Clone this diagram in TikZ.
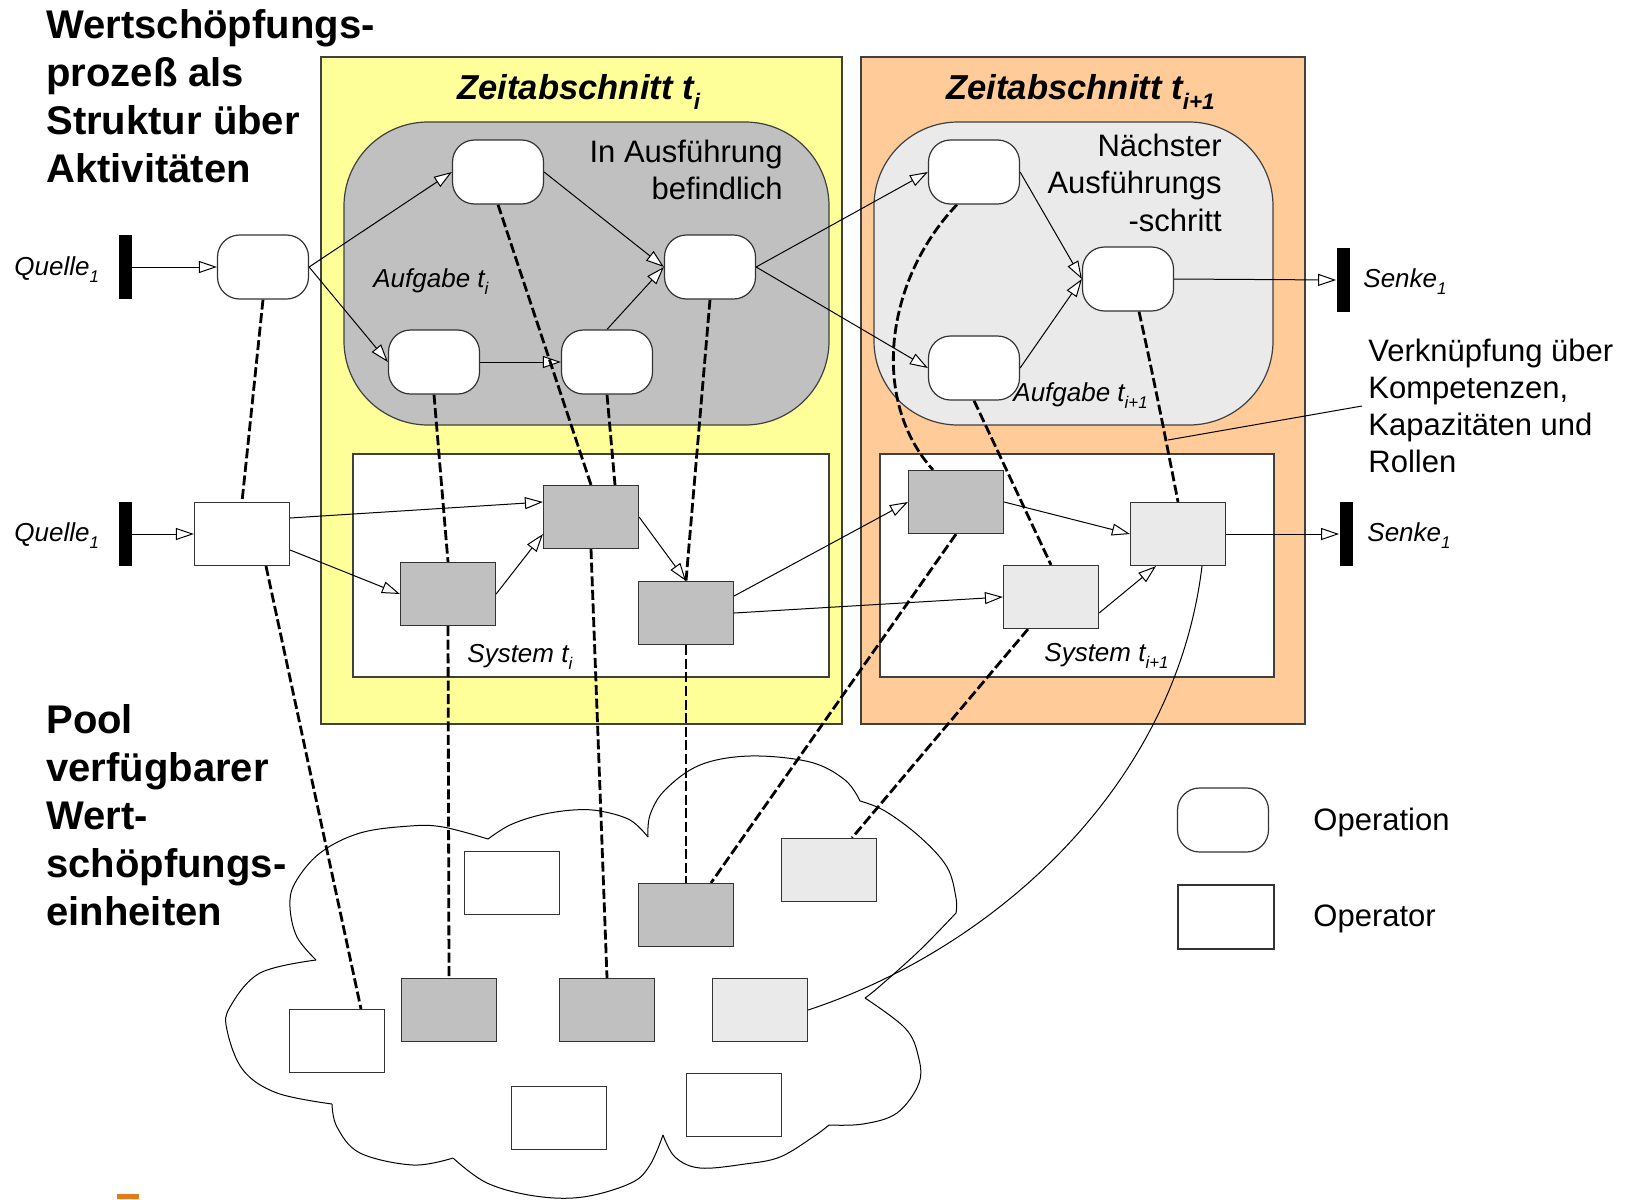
\documentclass[tikz,border=0pt]{standalone}
\usepackage{fontspec}
\setmainfont{Liberation Sans}
\usetikzlibrary{arrows.meta,calc}
\pgfdeclarelayer{bg}
\pgfdeclarelayer{mid}
\pgfsetlayers{bg,mid,main}

\definecolor{zeitgelb}{HTML}{FFFF99}
\definecolor{zeitorange}{HTML}{FFCC99}
\definecolor{grauA}{HTML}{C0C0C0}
\definecolor{grauB}{HTML}{EAEAEA}
\definecolor{logoorange}{HTML}{E8771E}

% lowered, reduced index (t_i, Quelle_1 ...)
\newcommand\lowsub[1]{\raisebox{-0.3em}{\scalebox{0.65}{#1}}}

\begin{document}
\begin{tikzpicture}[x=0.5pt,y=-0.5pt,
  opnode/.style={draw=black!80, line width=0.6pt, rounded corners=11pt, fill=white,
                 minimum width=45.5pt, minimum height=32pt, inner sep=0pt},
  unitbox/.style={draw=black!80, line width=0.6pt, fill=#1,
                  minimum width=47.5pt, minimum height=31.5pt, inner sep=0pt},
  unitbox/.default=white,
  barnode/.style={fill=black, minimum width=6.5pt, minimum height=32pt, inner sep=0pt},
  flowarrow/.style={line width=0.5pt, -{Triangle[length=9pt,width=6pt,fill=white]}},
  rolelink/.style={line width=1.4pt, dash pattern=on 5pt off 1.8pt},
  regionline/.style={draw=black!75, line width=0.6pt},
  headtxt/.style={font=\fontsize{20}{24}\selectfont\bfseries, anchor=base west, inner sep=0pt},
  zeittxt/.style={font=\fontsize{17.3}{20}\selectfont\bfseries\itshape, anchor=base west, inner sep=0pt},
  plaintxt/.style={font=\fontsize{15.5}{18.5}\selectfont, inner sep=0pt},
  labeltxt/.style={font=\fontsize{13}{15}\selectfont\itshape, anchor=base west, inner sep=0pt},
  cloudline/.style={line width=0.5pt}
]
\useasboundingbox (0,0) rectangle (1631,1199);

% ---------- background regions ----------
\begin{pgfonlayer}{bg}
  \fill[white] (0,0) rectangle (1631,1199);
  \filldraw[fill=zeitgelb, regionline] (321,57) rectangle (842,724);
  \filldraw[fill=zeitorange, regionline] (861,57) rectangle (1305,724);
  \filldraw[fill=grauA, regionline, rounded corners=42pt] (344,122) rectangle (829,425);
  \filldraw[fill=grauB, regionline, rounded corners=42pt] (874,122) rectangle (1273,425);
  \filldraw[fill=white, regionline] (353,454) rectangle (829,677);
  \filldraw[fill=white, regionline] (880,454) rectangle (1274,677);
  % pool cloud, one bump after the other
  \draw[cloudline] plot[smooth, tension=0.6] coordinates
    {(488,839) (443,827) (410,826) (360,833) (320,853) (295,883) (290,907) (297,937) (316,960)};
  \draw[cloudline] plot[smooth, tension=0.6] coordinates
    {(316,960) (260,973) (230,1007) (227,1030) (243,1070) (277,1093) (332,1104)};
  \draw[cloudline] plot[smooth, tension=0.6] coordinates
    {(332,1104) (337,1127) (360,1153) (413,1165) (453,1158)};
  \draw[cloudline] plot[smooth, tension=0.6] coordinates
    {(453,1158) (487,1183) (535,1196) (583,1197) (631,1183) (650,1165) (663,1135)};
  \draw[cloudline] plot[smooth, tension=0.6] coordinates
    {(663,1135) (675,1157) (700,1168) (745,1164) (780,1157) (813,1137) (829,1125)};
  \draw[cloudline] plot[smooth, tension=0.6] coordinates
    {(829,1125) (863,1124) (897,1113) (919,1083) (918,1055) (905,1028) (865,998)};
  \draw[cloudline] plot[smooth, tension=0.6] coordinates
    {(865,998) (880,986) (920,950) (956,913)};
  \draw[cloudline] plot[smooth, tension=0.6] coordinates
    {(956,913) (956,898) (947,867) (920,837) (885,811) (860,801)};
  \draw[cloudline] plot[smooth, tension=0.6] coordinates
    {(860,801) (845,780) (810,762) (750,756) (700,765) (665,790) (650,815) (648,837)};
  \draw[cloudline] plot[smooth, tension=0.6] coordinates
    {(648,837) (630,820) (600,811) (573,810) (540,815) (510,825) (488,839)};
  % logo fragment
  \fill[logoorange] (117,1194) rectangle (139,1199);
\end{pgfonlayer}

% ---------- operations (process level) ----------
\node[barnode] (QA) at (125,267) {};
\node[opnode] (A) at (263,267) {};
\node[opnode] (B) at (498,172) {};
\node[opnode] (C) at (434,362) {};
\node[opnode] (D) at (607,362) {};
\node[opnode] (E) at (710,267) {};
\node[opnode] (F) at (974,172) {};
\node[opnode] (G) at (974,368) {};
\node[opnode] (H) at (1128,279) {};
\node[barnode] (SA) at (1343,280) {};

% ---------- operators (system level) ----------
\node[barnode] (QB) at (125,534) {};
\node[unitbox] (R0) at (242,534) {};
\node[unitbox=grauA] (S1) at (448,594) {};
\node[unitbox=grauA] (S2) at (591,517) {};
\node[unitbox=grauA] (S3) at (686,613) {};
\node[unitbox=grauA] (T1) at (956,502) {};
\node[unitbox=grauB] (T2) at (1051,597) {};
\node[unitbox=grauB] (T3) at (1178,534) {};
\node[barnode] (SB) at (1346,534) {};

% ---------- pool of units ----------
\node[unitbox] (P1) at (337,1041) {};
\node[unitbox=grauA] (P2) at (449,1010) {};
\node[unitbox=grauA] (P3) at (607,1010) {};
\node[unitbox=grauB] (P4) at (760,1010) {};
\node[unitbox] (P5) at (512,883) {};
\node[unitbox=grauA] (P6) at (686,915) {};
\node[unitbox=grauB] (P7) at (829,870) {};
\node[unitbox] (P8) at (559,1118) {};
\node[unitbox] (P9) at (734,1105) {};

% ---------- legend ----------
\node[opnode] (LegOp) at (1223,820) {};
\node[unitbox, minimum width=48pt, minimum height=32pt] (LegOpr) at (1226,917) {};
\node[plaintxt, anchor=base west] (legA) at (1313,830) {Operation};
\node[plaintxt, anchor=base west] (legB) at (1313,926) {Operator};

% ---------- connectors ----------
\coordinate (annoStart) at (1362,406);
\coordinate (annoEnd) at (1168,440);
\begin{pgfonlayer}{mid}
  % process flow
  \draw[flowarrow] (QA.east) -- (A.west);
  \draw[flowarrow] (A.east) -- (B.west);
  \draw[flowarrow] (A.east) -- (C.west);
  \draw[flowarrow] (B.east) -- (E.west);
  \draw[flowarrow] (C.east) -- (D.west);
  \draw[flowarrow] (D.north) -- (E.west);
  \draw[flowarrow] (E.east) -- (F.west);
  \draw[flowarrow] (E.east) -- (G.west);
  \draw[flowarrow] (F.east) -- (H.west);
  \draw[flowarrow] (G.east) -- (H.west);
  \draw[flowarrow] (H.east) -- (SA.west);
  % system flow
  \draw[flowarrow] (QB.east) -- (R0.west);
  \draw[flowarrow] ($(R0.east)+(0,-16)$) -- ($(S2.west)+(0,-15)$);
  \draw[flowarrow] ($(R0.east)+(0,16)$) -- (S1.west);
  \draw[flowarrow] (S1.east) -- ($(S2.west)+(0,17)$);
  \draw[flowarrow] (S2.east) -- (S3.north);
  \draw[flowarrow] ($(S3.east)+(0,-17)$) -- (T1.west);
  \draw[flowarrow] (S3.east) -- (T2.west);
  \draw[flowarrow] (T1.east) -- (T3.west);
  \draw[flowarrow] ($(T2.east)+(0,16)$) -- ($(T3.south)+(-22,0)$);
  \draw[flowarrow] (T3.east) -- (SB.west);
  % assignments operation -> operator -> pool
  \draw[rolelink] (A.south) -- (R0.north);
  \draw[rolelink] ($(R0.south)+(24,0)$) -- ($(P1.north)+(24,0)$);
  \draw[rolelink] (B.south) -- (S2.north);
  \draw[rolelink] (C.south) -- (S1.north);
  \draw[rolelink] (D.south) -- ($(S2.north)+(24,0)$);
  \draw[rolelink] (E.south) -- (S3.north);
  \draw[rolelink] (S1.south) -- (P2.north);
  \draw[rolelink] (S2.south) -- (P3.north);
  \draw[rolelink] (S3.south) -- (P6.north);
  \draw[rolelink] ($(F.south)+(-17,0)$) .. controls (885,280) and (870,400) .. ($(T1.north)+(-23,0)$);
  \draw[rolelink] (T1.south) -- ($(P6.north)+(25,0)$);
  \draw[rolelink] (G.south) -- (T2.north);
  \draw[rolelink] ($(H.south)+(11,0)$) .. controls (1152,370) and (1166,440) .. (T3.north);
  \draw[rolelink] ($(T2.south)+(-23,0)$) -- ($(P7.north)+(23,0)$);
  \draw[line width=0.5pt] ($(T3.south)+(24,0)$) .. controls (1175,790) and (990,950) .. (P4.east);
  % annotation pointer
  \draw[line width=0.5pt] (annoStart) -- (annoEnd);
\end{pgfonlayer}

% ---------- texts ----------
\foreach \txt [count=\k] in {Wertschöpfungs-, prozeß als, Struktur über, Aktivitäten}
  \node[headtxt] (head\k) at (46,{38+48*(\k-1)}) {\txt};
\foreach \txt [count=\k] in {Pool, verfügbarer, Wert-, schöpfungs-, einheiten}
  \node[headtxt] (pool\k) at (46,{733+48*(\k-1)}) {\txt};
\foreach \txt [count=\k] in {In Ausführung, befindlich}
  \node[plaintxt, anchor=base east] (exec\k) at (783,{162+37.3*(\k-1)}) {\txt};
\foreach \txt [count=\k] in {Nächster, Ausführungs, -schritt}
  \node[plaintxt, anchor=base east] (next\k) at (1222,{156+37.5*(\k-1)}) {\txt};
\foreach \txt [count=\k] in {Verknüpfung über, {Kompetenzen,}, Kapazitäten und, Rollen}
  \node[plaintxt, anchor=base west] (verk\k) at (1368,{361+37.3*(\k-1)}) {\txt};

\node[zeittxt] (zeitA) at (457,99) {Zeitabschnitt t\lowsub{i}};
\node[zeittxt] (zeitB) at (946,99) {Zeitabschnitt t\lowsub{i+1}};
\node[labeltxt] (aufgA) at (373,287) {Aufgabe t\lowsub{i}};
\node[labeltxt] (aufgB) at (1013,401) {Aufgabe t\lowsub{i+1}};
\node[labeltxt] (sysA) at (467,662) {System t\lowsub{i}};
\node[labeltxt] (sysB) at (1044,661) {System t\lowsub{i+1}};
\node[labeltxt] (quA) at (14,275) {Quelle\lowsub{1}};
\node[labeltxt] (quB) at (14,541) {Quelle\lowsub{1}};
\node[labeltxt] (seA) at (1363,287) {Senke\lowsub{1}};
\node[labeltxt] (seB) at (1367,541) {Senke\lowsub{1}};
\end{tikzpicture}
\end{document}
